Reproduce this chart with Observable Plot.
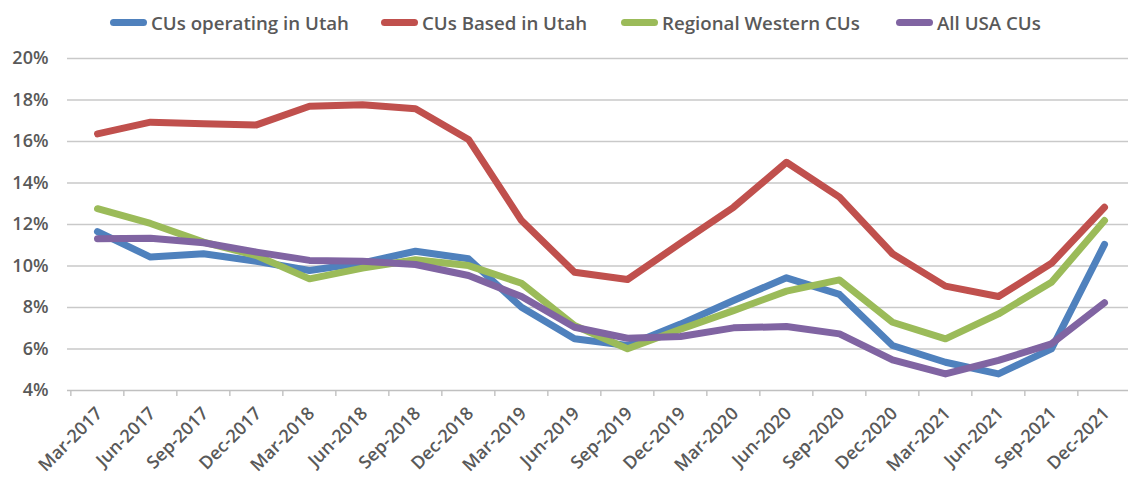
<!DOCTYPE html>
<html>
<head>
<meta charset="utf-8">
<script src="https://cdn.jsdelivr.net/npm/d3@7"></script>
<script src="https://cdn.jsdelivr.net/npm/@observablehq/plot@0.6"></script>
<style>
  html, body { margin: 0; padding: 0; background: #fff; }
  body { width: 1128px; height: 479px; overflow: hidden; font-family: "Open Sans", sans-serif; }
  #legend { position: relative; height: 44px; }
  .item { position: absolute; top: 10px; display: flex; align-items: center; font-size: 18.7px; font-weight: 600; color: #595959; }
  .sw { width: 37px; height: 7px; border-radius: 4px; margin-right: 4px; }
  svg { display: block; }
</style>
</head>
<body>
<div id="legend"></div>
<div id="chart"></div>
<script>
const dates = ["Mar-2017","Jun-2017","Sep-2017","Dec-2017","Mar-2018","Jun-2018","Sep-2018","Dec-2018",
  "Mar-2019","Jun-2019","Sep-2019","Dec-2019","Mar-2020","Jun-2020","Sep-2020","Dec-2020",
  "Mar-2021","Jun-2021","Sep-2021","Dec-2021"];
const seriesNames = ["CUs operating in Utah","CUs Based in Utah","Regional Western CUs","All USA CUs"];
const seriesColors = ["#4F81BD","#C0504D","#9BBB59","#8064A2"];
const operatingUtah = [11.66,10.43,10.59,10.23,9.78,10.15,10.71,10.35,8.01,6.49,6.17,7.2,8.34,9.43,8.63,6.17,5.36,4.80,6.01,11.04];
const basedUtah = [16.37,16.93,16.85,16.80,17.70,17.77,17.58,16.10,12.19,9.70,9.35,11.1,12.83,15.0,13.32,10.59,9.03,8.53,10.13,12.83];
const regionalWestern = [12.76,12.05,11.15,10.5,9.38,9.9,10.3,10.02,9.17,7.13,6.01,6.95,7.85,8.79,9.33,7.29,6.49,7.69,9.22,12.19];
const allUSA = [11.31,11.34,11.12,10.67,10.27,10.23,10.07,9.54,8.53,7.05,6.52,6.60,7.02,7.08,6.73,5.48,4.80,5.45,6.25,8.23];
const yTicks = [4,6,8,10,12,14,16,18,20];
const legendX = [110, 381, 621, 896];

const seriesValues = [operatingUtah, basedUtah, regionalWestern, allUSA];
const rows = [];
seriesNames.forEach((name, s) => dates.forEach((d, i) => rows.push({series: name, date: d, value: seriesValues[s][i]})));

// legend
const legend = document.getElementById("legend");
seriesNames.forEach((name, s) => {
  const it = document.createElement("div");
  it.className = "item";
  it.style.left = legendX[s] + "px";
  const sw = document.createElement("span");
  sw.className = "sw";
  sw.style.background = seriesColors[s];
  const tx = document.createElement("span");
  tx.textContent = name;
  it.append(sw, tx);
  legend.append(it);
});

const left = 67, right = 1133;
const step = (right - left) / dates.length;

const chart = Plot.plot({
  width: 1128,
  height: 435,
  marginTop: 14,
  marginBottom: 89,
  marginLeft: left,
  marginRight: 0,
  style: {fontFamily: "Open Sans, sans-serif", fontSize: "18px", fontWeight: 600, color: "#595959", overflow: "visible"},
  x: {type: "point", domain: dates, range: [left, right], padding: 0.5, label: null},
  y: {domain: [4, 20], range: [346, 14], label: null},
  color: {domain: seriesNames, range: seriesColors},
  marks: [
    Plot.ruleY(yTicks.filter(t => t > 4), {stroke: "#c9c9c9", strokeWidth: 1.4}),
    Plot.ruleY([4], {stroke: "#c0c0c0", strokeWidth: 1.4}),
    Plot.axisY({ticks: yTicks, tickSize: 0, tickPadding: 19, tickFormat: d => d + "%", fill: "#595959", fontSize: 18, label: null}),
    Plot.axisX({ticks: dates, tickSize: 6, dx: -step / 2, tickFormat: () => "", stroke: "#c0c0c0", strokeWidth: 1.4, label: null}),
    Plot.axisX({ticks: dates, tickSize: 0, tickRotate: -45, tickPadding: 20, dx: 2, fill: "#595959", fontSize: 18, label: null}),
    Plot.line(rows, {x: "date", y: "value", z: "series", stroke: "series", strokeWidth: 7, strokeLinecap: "round", strokeLinejoin: "round"})
  ]
});
document.getElementById("chart").append(chart);
</script>
</body>
</html>
